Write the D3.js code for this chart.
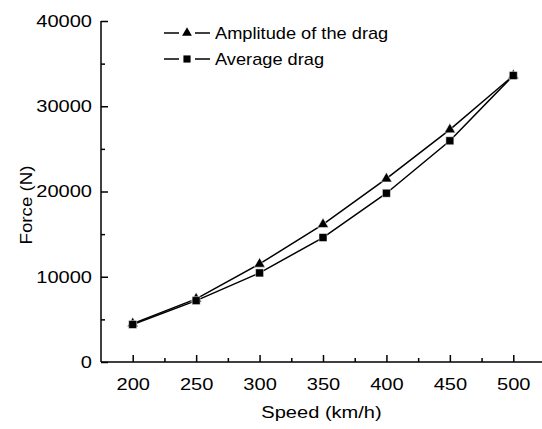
<!DOCTYPE html>
<html lang="en">
    <head>
        <meta charset="utf-8">
        <title>Drag force vs speed</title>
        <script type="text/javascript" src="https://cdn.jsdelivr.net/npm/d3@7"></script>
        <style>
            body { margin: 0; background: #fff; }
            text { font-family: "Liberation Sans", Arial, sans-serif; fill: #000; }
        </style>
    </head>
    <body>
        <script type="text/javascript">
            var speeds = [200, 250, 300, 350, 400, 450, 500];
            var amplitude = [4500, 7400, 11500, 16150, 21500, 27250, 33600];
            var average = [4400, 7200, 10450, 14600, 19800, 25950, 33600];
            var xTicks = [200, 250, 300, 350, 400, 450, 500];
            var yTicks = [0, 10000, 20000, 30000, 40000];

            var w = 542;
            var h = 429;
            var mLeft = 101, mRight = 545, mTop = 21, mBottom = 362;
            var sx = 1.18; // glyphs in the picture are stretched sideways

            var svg = d3.select('body')
                        .append('svg')
                        .attr('width', w)
                        .attr('height', h);

            var x = d3.scaleLinear().domain([175, 525]).range([mLeft, mRight]);
            var y = d3.scaleLinear().domain([0, 40000]).range([mBottom, mTop]);

            // minor ticks
            var minorX = d3.range(225, 525, 50);
            var minorY = d3.range(5000, 40000, 10000);

            svg.append('g')
               .attr('transform', 'translate(0,' + mBottom + ')')
               .call(d3.axisTop(x).tickValues(minorX).tickSize(4).tickFormat(''))
               .call(function(g){ g.select('.domain').remove(); })
               .selectAll('line').attr('stroke-width', 1.5);

            svg.append('g')
               .attr('transform', 'translate(' + mLeft + ',0)')
               .call(d3.axisRight(y).tickValues(minorY).tickSize(4).tickFormat(''))
               .call(function(g){ g.select('.domain').remove(); })
               .selectAll('line').attr('stroke-width', 1.5);

            // x axis
            var gx = svg.append('g')
               .attr('transform', 'translate(0,' + mBottom + ')')
               .call(d3.axisTop(x).tickValues(xTicks).tickSize(7).tickSizeOuter(0));
            gx.select('.domain').attr('stroke-width', 1.5).attr('d', 'M' + mLeft + ',0H' + mRight);
            gx.selectAll('line').attr('stroke-width', 1.5);
            gx.selectAll('text')
              .attr('y', 28)
              .attr('dy', 0)
              .attr('transform', 'scale(' + sx + ',1)')
              .attr('font-size', '17px');

            // y axis
            var gy = svg.append('g')
               .attr('transform', 'translate(' + mLeft + ',0)')
               .call(d3.axisRight(y).tickValues(yTicks).tickSize(7).tickSizeOuter(0).tickFormat(d3.format('d')));
            gy.select('.domain').attr('stroke-width', 1.5).attr('d', 'M0,' + mBottom + 'V' + mTop);
            gy.selectAll('line').attr('stroke-width', 1.5);
            gy.selectAll('text')
              .attr('x', -9 / sx)
              .attr('text-anchor', 'end')
              .attr('transform', 'scale(' + sx + ',1)')
              .attr('font-size', '17px');
            svg.selectAll('.tick text').attr('font-family', '"Liberation Sans", Arial, sans-serif');

            // axis titles
            svg.append('text')
               .attr('transform', 'translate(' + ((mLeft + w) / 2) + ',418) scale(' + sx + ',1)')
               .attr('text-anchor', 'middle')
               .attr('font-size', '17px')
               .text('Speed (km/h)');

            svg.append('text')
               .attr('transform', 'translate(32,205) rotate(-90) scale(1.1,1)')
               .attr('text-anchor', 'middle')
               .attr('font-size', '17px')
               .text('Force (N)');

            var line = d3.line()
                         .x(function(d){ return x(d[0]); })
                         .y(function(d){ return y(d[1]); });

            var series = [
                { name: 'Amplitude of the drag', values: amplitude, symbol: d3.symbolTriangle, size: 52 },
                { name: 'Average drag', values: average, symbol: d3.symbolSquare, size: 64 }
            ];

            series.forEach(function(s){
                var pts = speeds.map(function(v, i){ return [v, s.values[i]]; });
                svg.append('path')
                   .attr('d', line(pts))
                   .attr('fill', 'none')
                   .attr('stroke', '#000')
                   .attr('stroke-width', 1.5);
            });

            series.forEach(function(s){
                var pts = speeds.map(function(v, i){ return [v, s.values[i]]; });
                svg.selectAll(null)
                   .data(pts)
                   .enter()
                   .append('path')
                   .attr('transform', function(d){ return 'translate(' + x(d[0]) + ',' + y(d[1]) + ')'; })
                   .attr('d', d3.symbol().type(s.symbol).size(s.size))
                   .attr('fill', '#000')
                   .attr('stroke', '#fff')
                   .attr('stroke-width', 0.5);
            });

            // legend
            var legend = svg.append('g');
            series.forEach(function(s, i){
                var ly = 33 + i * 26;
                legend.append('line')
                      .attr('x1', 164).attr('x2', 179)
                      .attr('y1', ly).attr('y2', ly)
                      .attr('stroke', '#000').attr('stroke-width', 1.5);
                legend.append('line')
                      .attr('x1', 195).attr('x2', 210)
                      .attr('y1', ly).attr('y2', ly)
                      .attr('stroke', '#000').attr('stroke-width', 1.5);
                legend.append('path')
                      .attr('transform', 'translate(187,' + ly + ')')
                      .attr('d', d3.symbol().type(s.symbol).size(s.size * 0.8))
                      .attr('fill', '#000');
                legend.append('text')
                      .attr('transform', 'translate(215,' + (ly + 6) + ') scale(1.14,1)')
                      .attr('font-size', '16px')
                      .text(s.name);
            });
        </script>
    </body>
</html>
